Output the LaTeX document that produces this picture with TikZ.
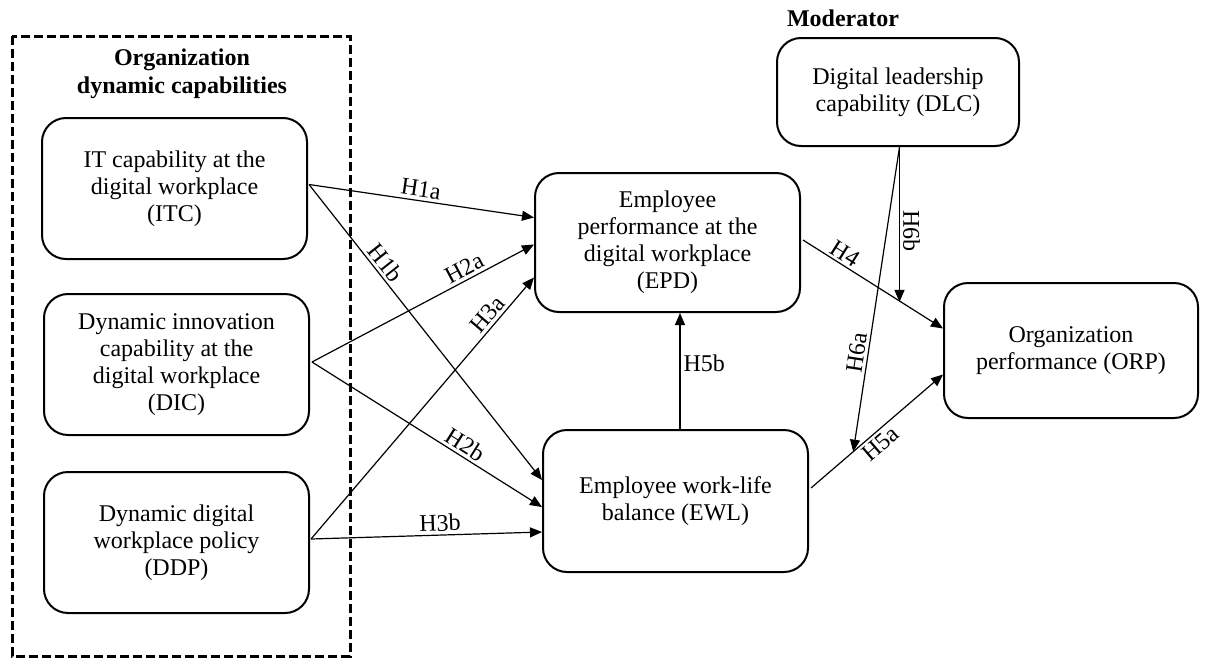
\documentclass[tikz,border=0pt]{standalone}
\usepackage{fontspec}
\setmainfont{Liberation Serif}
\usetikzlibrary{arrows.meta,calc}
\begin{document}
\begin{tikzpicture}[x=0.5pt,y=-0.5pt,
  box/.style={draw, line width=1pt, rounded corners=12pt, align=center,
    font=\fontsize{12}{13.5}\selectfont, inner sep=2pt},
  arr/.style={line width=0.6pt, -{Triangle[length=6pt,width=5pt]}},
  lab/.style={font=\fontsize{12}{14}\selectfont, inner sep=1.5pt},
  ttl/.style={font=\fontsize{12}{14}\selectfont\bfseries, align=center},
  frame/.style={line width=1.5pt, dash pattern=on 4.5pt off 2pt}]
\useasboundingbox (0,0) rectangle (1206,659);
% group frame
\draw[frame] (12,36) rectangle (350,656);
\node[ttl] (gtitle) at (182,74) {Organization\\dynamic capabilities};
\node[ttl] (mod) at (843,18) {Moderator};
% boxes
\node[box, minimum width=132.5pt, minimum height=70.5pt] (ITC) at (174.5,188.5)
  {IT capability at the\\digital workplace\\(ITC)};
\node[box, minimum width=132.5pt, minimum height=70.5pt] (DIC) at (176.5,364.5)
  {Dynamic innovation\\capability at the\\digital workplace\\(DIC)};
\node[box, minimum width=132.5pt, minimum height=70.5pt] (DDP) at (176.5,542.5)
  {Dynamic digital\\workplace policy\\(DDP)};
\node[box, minimum width=132.5pt, minimum height=69.5pt] (EPD) at (667.5,242.5)
  {Employee\\performance at the\\digital workplace\\(EPD)};
\node[box, minimum width=132.5pt, minimum height=71pt] (EWL) at (675.5,501)
  {Employee work-life\\balance (EWL)};
\node[box, minimum width=121pt, minimum height=54pt] (DLC) at (898,92)
  {Digital leadership\\capability (DLC)};
\node[box, minimum width=127pt, minimum height=67.5pt] (ORP) at (1071,350.5)
  {Organization\\performance (ORP)};
% anchor points
\coordinate (itcS) at ($(ITC.east)+(1,-4)$);
\coordinate (dicS) at ($(DIC.east)+(2,-2.5)$);
\coordinate (ddpS) at ($(DDP.east)+(1,-3.5)$);
\coordinate (epdA) at ($(EPD.west)+(0,-25)$);
\coordinate (epdB) at ($(EPD.west)+(0,2)$);
\coordinate (epdC) at ($(EPD.west)+(0,35)$);
\coordinate (ewlA) at ($(EWL.west)+(0,-21)$);
\coordinate (ewlB) at ($(EWL.west)+(0,6)$);
\coordinate (ewlC) at ($(EWL.west)+(0,31)$);
\coordinate (epdR) at ($(EPD.east)+(2,-2.5)$);
\coordinate (orpA) at ($(ORP.west)+(0,-22)$);
\coordinate (orpB) at ($(ORP.west)+(0,24)$);
\coordinate (ewlR) at ($(EWL.east)+(2,-13)$);
\coordinate (h5b) at ($(EWL.north)+(4.5,0)$);
\coordinate (dlcS) at ($(DLC.south)+(1.5,0)$);
\coordinate (h4mid) at ($(epdR)!0.7!(orpA)$);
\coordinate (h5mid) at ($(ewlR)!0.32!(orpB)$);
% connectors
\draw[arr] (itcS) -- node[lab, sloped, above, pos=0.49] {H1a} (epdA);
\draw[arr] (itcS) -- node[lab, sloped, above, pos=0.29] {H1b} (ewlA);
\draw[arr] (dicS) -- node[lab, sloped, above, pos=0.71] {H2a} (epdB);
\draw[arr] (dicS) -- node[lab, sloped, above, pos=0.64] {H2b} (ewlB);
\draw[arr] (ddpS) -- node[lab, sloped, above, pos=0.83] {H3a} (epdC);
\draw[arr] (ddpS) -- node[lab, sloped, above, pos=0.56] {H3b} (ewlC);
\draw[arr] (epdR) -- node[lab, sloped, above, pos=0.26] {H4} (orpA);
\draw[arr] (ewlR) -- node[lab, sloped, below, pos=0.47] {H5a} (orpB);
\draw[arr] (h5b) -- node[lab, right, pos=0.57] {H5b} (h5b |- EPD.south);
\draw[arr] (dlcS) -- node[lab, sloped, above, pos=0.54] {H6b} (dlcS |- h4mid);
\draw[arr] (dlcS) -- node[lab, sloped, above, pos=0.68] {H6a} (h5mid);
\end{tikzpicture}
\end{document}
